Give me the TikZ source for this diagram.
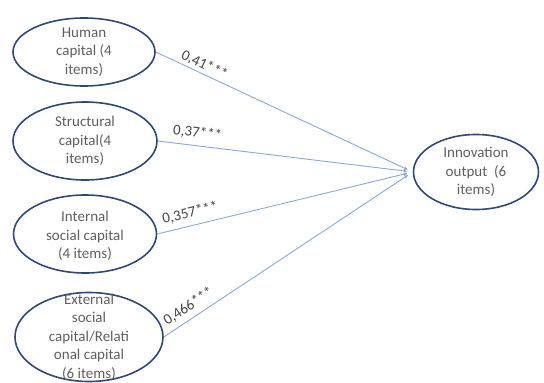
\documentclass[tikz,border=0pt]{standalone}
\usepackage{fontspec}
\setmainfont{Carlito}
\usepackage{xcolor}
\usepackage{tikz}
\usetikzlibrary{shapes.geometric, positioning, arrows.meta}

\begin{document}
\begin{tikzpicture}[x=1pt, y=-1pt,
        construct/.style={ellipse, draw=ellipseblue, line width=1.6pt, inner sep=0pt},
        conname/.style={text=textgray, align=center, font=\fontsize{15}{18.5}\selectfont},
        path/.style={draw=lineblue, line width=0.9pt, shorten >=5pt, -{Latex[length=4pt, width=3.5pt]}},
        coef/.style={sloped, above, inner sep=2pt, text=coefgray, font=\fontsize{15}{18}\selectfont}]
        % Colours
        \definecolor{ellipseblue}{RGB}{47, 72, 118}
        \definecolor{lineblue}{RGB}{140, 168, 214}
        \definecolor{textgray}{RGB}{95, 95, 95}
        \definecolor{coefgray}{RGB}{70, 70, 70}

        \useasboundingbox (0,0) rectangle (544,383);

        % 1. Predictors on the left
        \node[construct, minimum width=142pt, minimum height=68pt,
              label={[conname]center:Human\\capital (4\\items)}] (human) at (84,52) {};
        \node[construct, minimum width=144pt, minimum height=78pt,
              label={[conname]center:Structural\\capital(4\\items)}] (struct) at (85,141) {};
        \node[construct, minimum width=143pt, minimum height=78pt,
              label={[conname, yshift=-2pt]center:Internal\\social capital\\(4 items)}] (internal) at (85,234) {};
        \node[construct, minimum width=148pt, minimum height=89pt,
              label={[conname]center:External\\social\\capital/Relati\\onal capital\\(6 items)}] (external) at (89,337) {};

        % 2. Outcome on the right
        \node[construct, minimum width=125pt, minimum height=75pt,
              label={[conname]center:Innovation\\output\ \ (6\\items)}] (output) at (476,172) {};

        % 3. Paths with coefficients
        \draw[path] (human.east) -- (output.west) node[coef, pos=0.175] {0,41***};
        \draw[path] (struct.east) -- (output.west) node[coef, pos=0.15, above=4pt] {0,37***};
        \draw[path] (internal.east) -- (output.west) node[coef, pos=0.14, above=4pt] {0,357***};
        \draw[path] (external.east) -- (output.west) node[coef, pos=0.125, above=3pt] {0,466***};

\end{tikzpicture}
\end{document}
